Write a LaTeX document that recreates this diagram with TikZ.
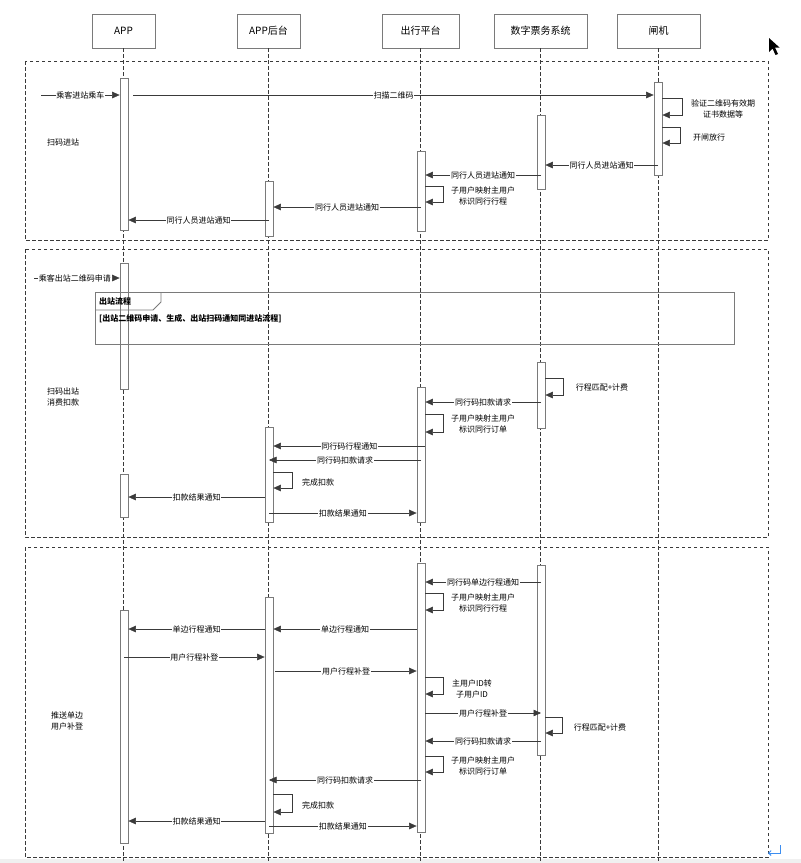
\documentclass[tikz,border=0pt]{standalone}
\usepackage{fontspec}
\setmainfont{Noto Sans CJK SC}
\usetikzlibrary{arrows.meta,calc}
\definecolor{ln}{HTML}{3A3A3A}
\definecolor{bx}{HTML}{7A7A7A}
\definecolor{retblue}{HTML}{3D8EF0}
\begin{document}
\begin{tikzpicture}[x=1pt,y=-1pt,
  hdbox/.style={draw=bx, line width=0.8pt, minimum width=63pt, minimum height=34pt, inner sep=0pt, font=\fontsize{10}{12}\selectfont},
  actbox/.style={draw=bx, fill=white, line width=0.7pt, minimum width=8pt, inner sep=0pt, anchor=north},
  lifeln/.style={draw=ln, line width=0.6pt, dash pattern=on 3.5pt off 2.5pt},
  grp/.style={draw=ln, line width=0.6pt, dash pattern=on 3.5pt off 2.5pt},
  msg/.style={draw=ln, line width=0.5pt, -{Triangle[length=7.5pt,width=6.5pt]}},
  lbl/.style={fill=white, inner sep=0.8pt, font=\fontsize{8}{9}\selectfont, text=black},
  notetxt/.style={font=\fontsize{8}{10.5}\selectfont, align=center, inner sep=0pt},
  seclbl/.style={font=\fontsize{8}{10.5}\selectfont, align=left, inner sep=0pt},
]
\useasboundingbox (0,0) rectangle (801,863);
\fill[white] (0,0) rectangle (801,863);
\fill[black!6] (0,859) rectangle (801,863);

% participants
\node[hdbox] (hApp) at (123.5,31) {APP};
\node[hdbox] (hBk) at (268.5,31) {APP后台};
\node[hdbox, minimum width=77pt] (hPl) at (420.5,31) {出行平台};
\node[hdbox, minimum width=93pt] (hTk) at (540.5,31) {数字票务系统};
\node[hdbox, minimum width=83pt] (hGt) at (658.5,31) {闸机};

% lifelines
\foreach \h in {hApp,hBk,hPl,hTk,hGt}
  \draw[lifeln] (\h.south) -- (\h.south |- 0,861);

% interaction groups
\draw[grp] (25,61) rectangle (768,240);
\draw[grp] (25,249) rectangle (768,537);
\draw[grp] (25,547) rectangle (768,857);

% ---------- 扫码进站 ----------
\node[actbox, minimum height=152pt] (A1) at (124,78) {};
\node[actbox, minimum height=93pt] (G1) at (658,82) {};
\node[actbox, minimum height=74pt] (T1) at (541,115) {};
\node[actbox, minimum height=80pt] (P1) at (421,151) {};
\node[actbox, minimum height=55pt] (B1) at (269,181) {};

\coordinate (in1) at (41,95);
\draw[msg] (in1) -- node[lbl]{乘客进站乘车} (A1.west |- in1);
\draw[msg] ([xshift=5pt]A1.east |- 0,95) -- node[lbl]{扫描二维码} (G1.west |- 0,95);
\draw[msg] (G1.east |- 0,98) -- (682,98) -- (682,115) -- (G1.east |- 0,115);
\node[notetxt] (n1) at (723,109) {验证二维码有效期\\证书数据等};
\draw[msg] (G1.east |- 0,127) -- (680,127) -- (680,143) -- (G1.east |- 0,143);
\node[notetxt] (n2) at (709,137) {开闸放行};
\draw[msg] (G1 |- 0,165) -- node[lbl]{同行人员进站通知} (T1.east |- 0,165);
\draw[msg] (T1 |- 0,175) -- node[lbl]{同行人员进站通知} (P1.east |- 0,175);
\draw[msg] (P1.east |- 0,186) -- (443,186) -- (443,202) -- (P1.east |- 0,202);
\node[notetxt] (n3) at (483,196) {子用户映射主用户\\标识同行行程};
\draw[msg] (P1 |- 0,207) -- node[lbl]{同行人员进站通知} (B1.east |- 0,207);
\draw[msg] (B1 |- 0,220) -- node[lbl]{同行人员进站通知} (A1.east |- 0,220);
\node[seclbl, anchor=west] (s1) at (47,142) {扫码进站};

% ---------- 扫码出站 消费扣款 ----------
\node[actbox, minimum height=126pt] (A2) at (124,263) {};
\node[actbox, minimum height=66pt] (T2) at (541,362) {};
\node[actbox, minimum height=135pt] (P2) at (421,387) {};
\node[actbox, minimum height=95pt] (B2) at (269,427) {};
\node[actbox, minimum height=43pt] (A3) at (124,474) {};

\coordinate (in2) at (34,278);
\draw[msg] (in2) -- node[lbl, xshift=-2pt]{乘客出站二维码申请} (A2.west |- in2);

% reference fragment
\draw[bx, line width=0.8pt] (95,292) rectangle (734,344);
\draw[bx, line width=0.8pt] (95,310) -- (153,310) -- (161,302) -- (161,292);
\node[anchor=west, inner sep=0pt, font=\fontsize{8}{9}\selectfont\bfseries] (fr) at (99,301) {出站流程};
\node[anchor=west, inner sep=0pt, font=\fontsize{8}{9}\selectfont\bfseries] (gd) at (99,319) {[出站二维码申请、生成、出站扫码通知同进站流程]};

\node[seclbl, anchor=west] (s2) at (47,397) {扫码出站\\消费扣款};

\draw[msg] (T2.east |- 0,378) -- (563,378) -- (563,395) -- (T2.east |- 0,395);
\node[notetxt] (n4) at (602,387) {行程匹配+计费};
\draw[msg] (T2 |- 0,402) -- node[lbl]{同行码扣款请求} (P2.east |- 0,402);
\draw[msg] (P2.east |- 0,414) -- (443,414) -- (443,432) -- (P2.east |- 0,432);
\node[notetxt] (n5) at (483,424) {子用户映射主用户\\标识同行订单};
\draw[msg] (P2.east |- 0,446) -- node[lbl]{同行码行程通知} (B2.east |- 0,446);
\draw[msg] (P2 |- 0,460) -- node[lbl]{同行码扣款请求} (B2 |- 0,460);
\draw[msg] (B2.east |- 0,472) -- (292,472) -- (292,488) -- (B2.east |- 0,488);
\node[notetxt] (n6) at (318,482) {完成扣款};
\draw[msg] (B2.west |- 0,497) -- node[lbl]{扣款结果通知} (A3.east |- 0,497);
\draw[msg] (B2 |- 0,513) -- node[lbl]{扣款结果通知} (P2.west |- 0,513);

% ---------- 推送单边 用户补登 ----------
\node[actbox, minimum height=269pt] (P3) at (421,563) {};
\node[actbox, minimum height=190pt] (T3) at (541,565) {};
\node[actbox, minimum height=236pt] (B3) at (269,597) {};
\node[actbox, minimum height=233pt] (A4) at (124,610) {};

\draw[msg] (T3 |- 0,582) -- node[lbl]{同行码单边行程通知} (P3.east |- 0,582);
\draw[msg] (P3.east |- 0,593) -- (443,593) -- (443,610) -- (P3.east |- 0,610);
\node[notetxt] (n7) at (483,603) {子用户映射主用户\\标识同行行程};
\draw[msg] (P3.west |- 0,629) -- node[lbl]{单边行程通知} (B3.east |- 0,629);
\draw[msg] (B3.west |- 0,629) -- node[lbl]{单边行程通知} (A4.east |- 0,629);
\draw[msg] (A4 |- 0,657) -- node[lbl]{用户行程补登} (B3.west |- 0,657);
\draw[msg] ([xshift=2pt]B3.east |- 0,671) -- node[lbl]{用户行程补登} (P3.west |- 0,671);
\draw[msg] (P3.east |- 0,677) -- (443,677) -- (443,694) -- (P3.east |- 0,694);
\node[notetxt] (n8) at (472,689) {主用户ID转\\子用户ID};
\draw[msg] (P3.east |- 0,713) -- node[lbl]{用户行程补登} (T3 |- 0,713);
\draw[msg] (T3.east |- 0,717) -- (562,717) -- (562,733) -- (T3.east |- 0,733);
\node[notetxt] (n9) at (600,727) {行程匹配+计费};
\draw[msg] (T3 |- 0,741) -- node[lbl]{同行码扣款请求} (P3.east |- 0,741);
\draw[msg] (P3.east |- 0,756) -- (443,756) -- (443,772) -- (P3.east |- 0,772);
\node[notetxt] (n10) at (483,766) {子用户映射主用户\\标识同行订单};
\draw[msg] (P3 |- 0,780) -- node[lbl]{同行码扣款请求} (B3 |- 0,780);
\draw[msg] (B3.east |- 0,794) -- (292,794) -- (292,812) -- (B3.east |- 0,812);
\node[notetxt] (n11) at (318,805) {完成扣款};
\draw[msg] (B3.west |- 0,821) -- node[lbl]{扣款结果通知} (A4.east |- 0,821);
\draw[msg] (B3 |- 0,826) -- node[lbl]{扣款结果通知} (P3.west |- 0,826);
\node[seclbl, anchor=west] (s3) at (51,721) {推送单边\\用户补登};

% pointer and return mark
\fill[black] (769,38) -- (769,52) -- (772.5,48.5) -- (775.5,55) -- (778,54) -- (775,47.5) -- (779.5,47.5) -- cycle;
\draw[retblue, line width=0.9pt, -{Straight Barb[length=2.5pt,width=5pt]}] (780,845) -- (780,853) -- (768,853);
\end{tikzpicture}
\end{document}
